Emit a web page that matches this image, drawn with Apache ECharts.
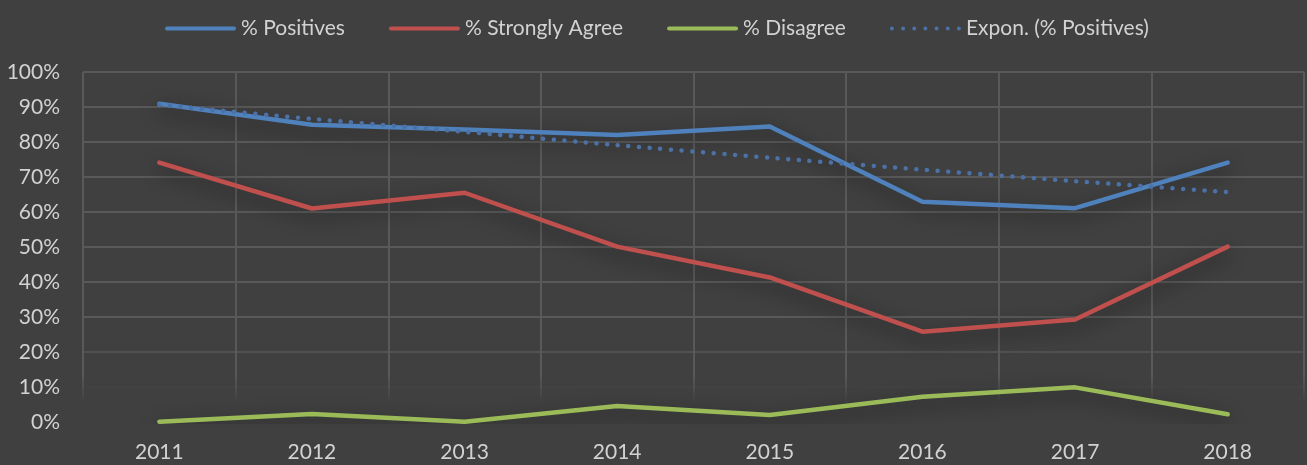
<!DOCTYPE html>
<html>
<head>
<meta charset="utf-8">
<script src="https://cdn.jsdelivr.net/npm/echarts@6/dist/echarts.min.js"></script>
<style>
  html, body { margin: 0; padding: 0; background: #404040; }
  #chart { width: 1307px; height: 465px; }
</style>
</head>
<body>
<div id="chart"></div>
<script>
// Survey results by year (percent)
const years = ['2011', '2012', '2013', '2014', '2015', '2016', '2017', '2018'];
const positives = [90.9, 84.9, 83.6, 82.0, 84.4, 62.9, 61.1, 74.1];
const stronglyAgree = [74.1, 61.0, 65.5, 50.1, 41.3, 25.8, 29.3, 50.1];
const disagree = [0.1, 2.3, 0.1, 4.6, 2.0, 7.2, 9.9, 2.2];
// Exponential trendline of % Positives
const positivesTrend = [90.6, 86.6, 82.9, 79.1, 75.5, 72.1, 68.8, 65.7];

const seriesNames = ['% Positives', '% Strongly Agree', '% Disagree', 'Expon. (% Positives)'];
const colors = ['#4f81bd', '#c0504d', '#9bbb59', '#4b71a6'];

const FONT = 'Lato';
const TEXT = '#d2d2d2';
const GRID = '#595959';

// Gridlines fade out towards the bottom of the plot area
const gridFadeV = new echarts.graphic.LinearGradient(0, 0, 0, 1, [
  { offset: 0, color: GRID },
  { offset: 0.86, color: GRID },
  { offset: 0.94, color: 'rgba(89,89,89,0)' },
  { offset: 1, color: 'rgba(89,89,89,0)' }
]);
// one colour per horizontal gridline, from 0% upward
const gridH = ['rgba(89,89,89,0)', 'rgba(89,89,89,0.08)', 'rgba(89,89,89,0.7)',
  GRID, GRID, GRID, GRID, GRID, GRID, GRID, GRID];

const shadow = {
  shadowColor: 'rgba(0,0,0,0.6)',
  shadowBlur: 20,
  shadowOffsetY: 6
};

// Legend keys: a solid bar for the series, a row of round dots for the trendline
const solidIcon = 'path://M2,0 L69,0 A2,2 0 0 1 69,4 L2,4 A2,2 0 0 1 2,0 Z';
function dotsIcon(count, width, r) {
  let d = '';
  const step = (width - 2 * r) / (count - 1);
  for (let i = 0; i < count; i++) {
    const cx = r + i * step;
    d += 'M' + (cx - r) + ',' + r + ' a' + r + ',' + r + ' 0 1,0 ' + (2 * r) + ',0 a' + r + ',' + r + ' 0 1,0 ' + (-2 * r) + ',0 ';
  }
  return 'path://' + d;
}
const trendIcon = dotsIcon(7, 71, 2);

function lineSeries(name, data, color) {
  return {
    name: name,
    type: 'line',
    data: data,
    symbol: 'none',
    lineStyle: Object.assign({ color: color, width: 4.5, cap: 'round', join: 'round' }, shadow),
    itemStyle: { color: color }
  };
}

const chart = echarts.init(document.getElementById('chart'), null, { renderer: 'canvas' });

chart.setOption({
  backgroundColor: '#404040',
  animation: false,
  color: colors,
  textStyle: { fontFamily: FONT },
  legend: {
    top: 13,
    left: 160,
    itemWidth: 71,
    itemHeight: 4,
    itemGap: 44,
    itemTextGap: 7,
    textStyle: { color: TEXT, fontSize: 21, fontFamily: FONT },
    data: [
      { name: seriesNames[0], icon: solidIcon, itemStyle: { color: colors[0] } },
      { name: seriesNames[1], icon: solidIcon, itemStyle: { color: colors[1] } },
      { name: seriesNames[2], icon: solidIcon, itemStyle: { color: colors[2] } },
      { name: seriesNames[3], icon: trendIcon, itemStyle: { color: colors[3] } }
    ]
  },
  grid: {
    left: 83,
    right: 3,
    top: 72,
    bottom: 43,
    containLabel: false
  },
  xAxis: {
    type: 'category',
    data: years,
    boundaryGap: true,
    axisLine: { show: false },
    axisTick: { show: false },
    axisLabel: { color: TEXT, fontSize: 21, fontFamily: FONT, margin: 20 },
    splitLine: { show: true, lineStyle: { color: gridFadeV, width: 2 } }
  },
  yAxis: {
    type: 'value',
    min: 0,
    max: 100,
    interval: 10,
    axisLine: { show: false },
    axisTick: { show: false },
    axisLabel: { color: TEXT, fontSize: 21, fontFamily: FONT, margin: 23, formatter: v => v + '%' },
    splitLine: { show: true, lineStyle: { color: gridH, width: 2 } }
  },
  series: [
    lineSeries(seriesNames[0], positives, colors[0]),
    lineSeries(seriesNames[1], stronglyAgree, colors[1]),
    lineSeries(seriesNames[2], disagree, colors[2]),
    {
      name: seriesNames[3],
      type: 'line',
      data: positivesTrend,
      symbol: 'none',
      smooth: 0.2,
      z: 3,
      lineStyle: { color: colors[3], width: 4.5, type: [0.1, 10.6], cap: 'round' },
      itemStyle: { color: colors[3] }
    }
  ]
});
</script>
</body>
</html>
